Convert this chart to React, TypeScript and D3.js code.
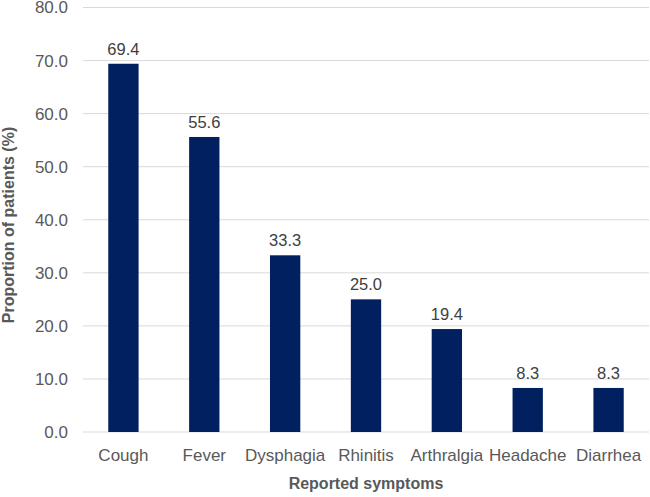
import React from "react";
import * as d3 from "d3";

const categories = ["Cough", "Fever", "Dysphagia", "Rhinitis", "Arthralgia", "Headache", "Diarrhea"];
const values = [69.4, 55.6, 33.3, 25.0, 19.4, 8.3, 8.3];
const yTicks = [0, 10, 20, 30, 40, 50, 60, 70, 80];

const W = 650, H = 497;
const left = 83, right = 649, top = 7.5, bottom = 432;

export default function App() {
  const x = d3.scaleBand<string>().domain(categories).range([left, right]).paddingInner(0.625).paddingOuter(0.3125);
  const y = d3.scaleLinear().domain([0, 80]).range([bottom, top]);
  const font = "'Liberation Sans', Arial, sans-serif";
  return (
    <svg width={W} height={H} style={{ position: "absolute", left: 0, top: 0 }} fontFamily={font}>
      <rect width={W} height={H} fill="#fff" />
      {yTicks.map((t) => (
        <g key={t}>
          <line x1={left} x2={right} y1={y(t)} y2={y(t)} stroke="#d9d9d9" strokeWidth={1} />
          <text x={68} y={y(t)} dy="0.35em" textAnchor="end" fontSize={17} fill="#595959">
            {t.toFixed(1)}
          </text>
        </g>
      ))}
      {categories.map((c, i) => (
        <g key={c}>
          <rect x={x(c)} y={y(values[i])} width={x.bandwidth()} height={bottom - y(values[i])} fill="#002060" />
          <text x={(x(c) as number) + x.bandwidth() / 2} y={y(values[i]) - 9} textAnchor="middle" fontSize={16.5} fill="#404040">
            {values[i].toFixed(1)}
          </text>
          <text x={(x(c) as number) + x.bandwidth() / 2} y={461} textAnchor="middle" fontSize={17} fill="#595959">
            {c}
          </text>
        </g>
      ))}
      <text x={(left + right) / 2} y={489} textAnchor="middle" fontSize={16} fontWeight="bold" fill="#595959">
        Reported symptoms
      </text>
      <text transform={`translate(14, 225) rotate(-90)`} textAnchor="middle" fontSize={16} fontWeight="bold" fill="#595959">
        Proportion of patients (%)
      </text>
    </svg>
  );
}
